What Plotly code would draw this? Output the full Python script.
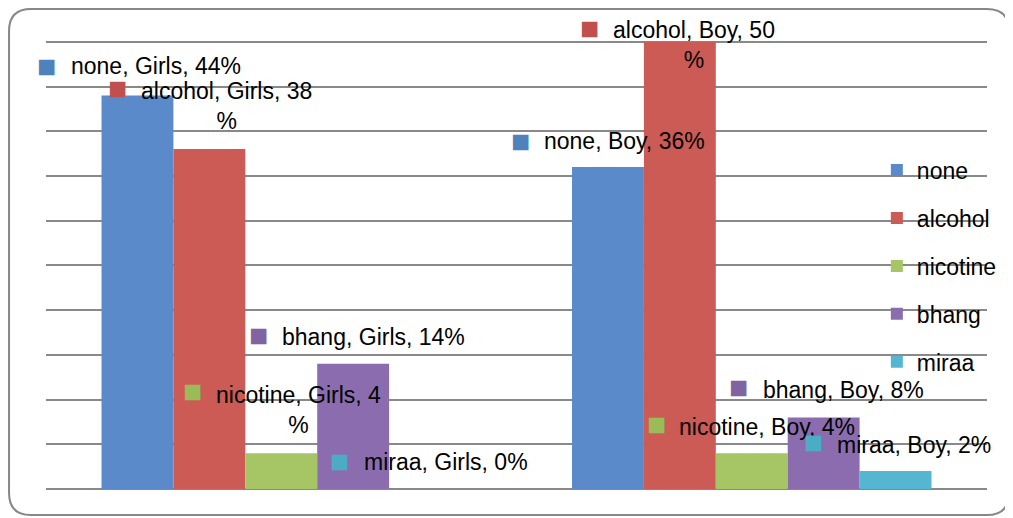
import plotly.graph_objects as go

groups = ["Girls", "Boy"]
substances = ["none", "alcohol", "nicotine", "bhang", "miraa"]
none_pct = [44, 36]
alcohol_pct = [38, 50]
nicotine_pct = [4, 4]
bhang_pct = [14, 8]
miraa_pct = [0, 2]
values = [none_pct, alcohol_pct, nicotine_pct, bhang_pct, miraa_pct]

bar_colors = ["#5A8ACA", "#CC5A55", "#A6C565", "#8B6DAF", "#55B6D2"]
key_colors = ["#4F81BD", "#C0504D", "#9BBB59", "#8064A2", "#4BACC6"]

# the page body has an 8px margin, so the figure is a bit smaller than the window
W, H = 1005, 510
L, R, T, B = 38, 25, 32, 29
FONT = "Liberation Sans"

# hand-placed data labels, like the excel original:
# (series, group) -> text dx, text dy, key dx, key dy (px from the group centre / bar top), wrap "%"
label_pos = {
    (0, 0): (-212.5, 29.6, -234.5, 29.6, False),
    (1, 0): (-142.5, 42.8, -163.5, 61.3, True),
    (2, 0): (-67.5, 43.2, -88.5, 62.2, True),
    (3, 0): (-1.5, 26.8, -22.5, 28.8, False),
    (4, 0): (80.5, 27.0, 58.5, 28.0, False),
    (0, 1): (-209.5, 26.2, -231.5, 26.2, False),
    (1, 1): (-140.5, -3.0, -162.0, 14.0, True),
    (2, 1): (-74.5, 26.2, -95.5, 29.2, False),
    (3, 1): (9.5, 27.5, -13.0, 30.5, False),
    (4, 1): (83.5, 26.1, 61.5, 29.1, False),
}

fig = go.Figure()
for i, name in enumerate(substances):
    fig.add_trace(go.Bar(x=groups, y=values[i], name=name, legendgroup=name,
                         marker=dict(color=bar_colors[i], line=dict(width=0))))

annotations = []
for (i, g), (tdx, tdy, kdx, kdy, wrap) in label_pos.items():
    v = values[i][g]
    txt = f"{substances[i]}, {groups[g]}, {v}" + ("<br>%" if wrap else "%")
    annotations.append(dict(x=groups[g], y=v, xref="x", yref="y", text=txt, showarrow=False,
                            xanchor="left", yanchor="middle", align="center",
                            xshift=tdx, yshift=tdy, font=dict(family=FONT, size=23, color="black")))
    annotations.append(dict(x=groups[g], y=v, xref="x", yref="y", text="■", showarrow=False,
                            xanchor="center", yanchor="middle", xshift=kdx, yshift=kdy,
                            font=dict(family=FONT, size=32, color=key_colors[i])))


def px(x):
    return (x - L) / (W - L - R)


def py(y):
    return (H - B - y) / (H - T - B)


# rounded chart border
x0, y0, x1, y1, r = 1, 1, 1002, 507, 22
pts = [("M", x0 + r, y0), ("L", x1 - r, y0), ("Q", x1, y0, x1, y0 + r), ("L", x1, y1 - r),
       ("Q", x1, y1, x1 - r, y1), ("L", x0 + r, y1), ("Q", x0, y1, x0, y1 - r),
       ("L", x0, y0 + r), ("Q", x0, y0, x0 + r, y0)]
path = ""
for p in pts:
    coords = p[1:]
    path += p[0] + " ".join(f"{px(coords[k]):.5f},{py(coords[k + 1]):.5f}" for k in range(0, len(coords), 2)) + " "
path += "Z"

fig.update_layout(
    width=W, height=H,
    margin=dict(l=L, r=R, t=T, b=B),
    paper_bgcolor="white", plot_bgcolor="white",
    barmode="group", bargap=0.236, bargroupgap=0,
    font=dict(family=FONT, size=23, color="black"),
    xaxis=dict(range=[-0.5, 1.5], showticklabels=False, showgrid=False, zeroline=False, ticks=""),
    yaxis=dict(range=[0, 50.2], dtick=5, showticklabels=False, ticks="",
               showgrid=True, gridcolor="#898989", gridwidth=2,
               zeroline=True, zerolinecolor="#898989", zerolinewidth=2),
    # legend sits just right of the Boy group, over the grid
    legend=dict(x=0.882, y=0.758, xanchor="left", yanchor="top", traceorder="grouped",
                tracegroupgap=15, bgcolor="rgba(0,0,0,0)", font=dict(family=FONT, size=23)),
    annotations=annotations,
    shapes=[dict(type="path", xref="paper", yref="paper", path=path,
                 line=dict(color="#878787", width=2), layer="above")],
)

fig.write_html("out.html")
